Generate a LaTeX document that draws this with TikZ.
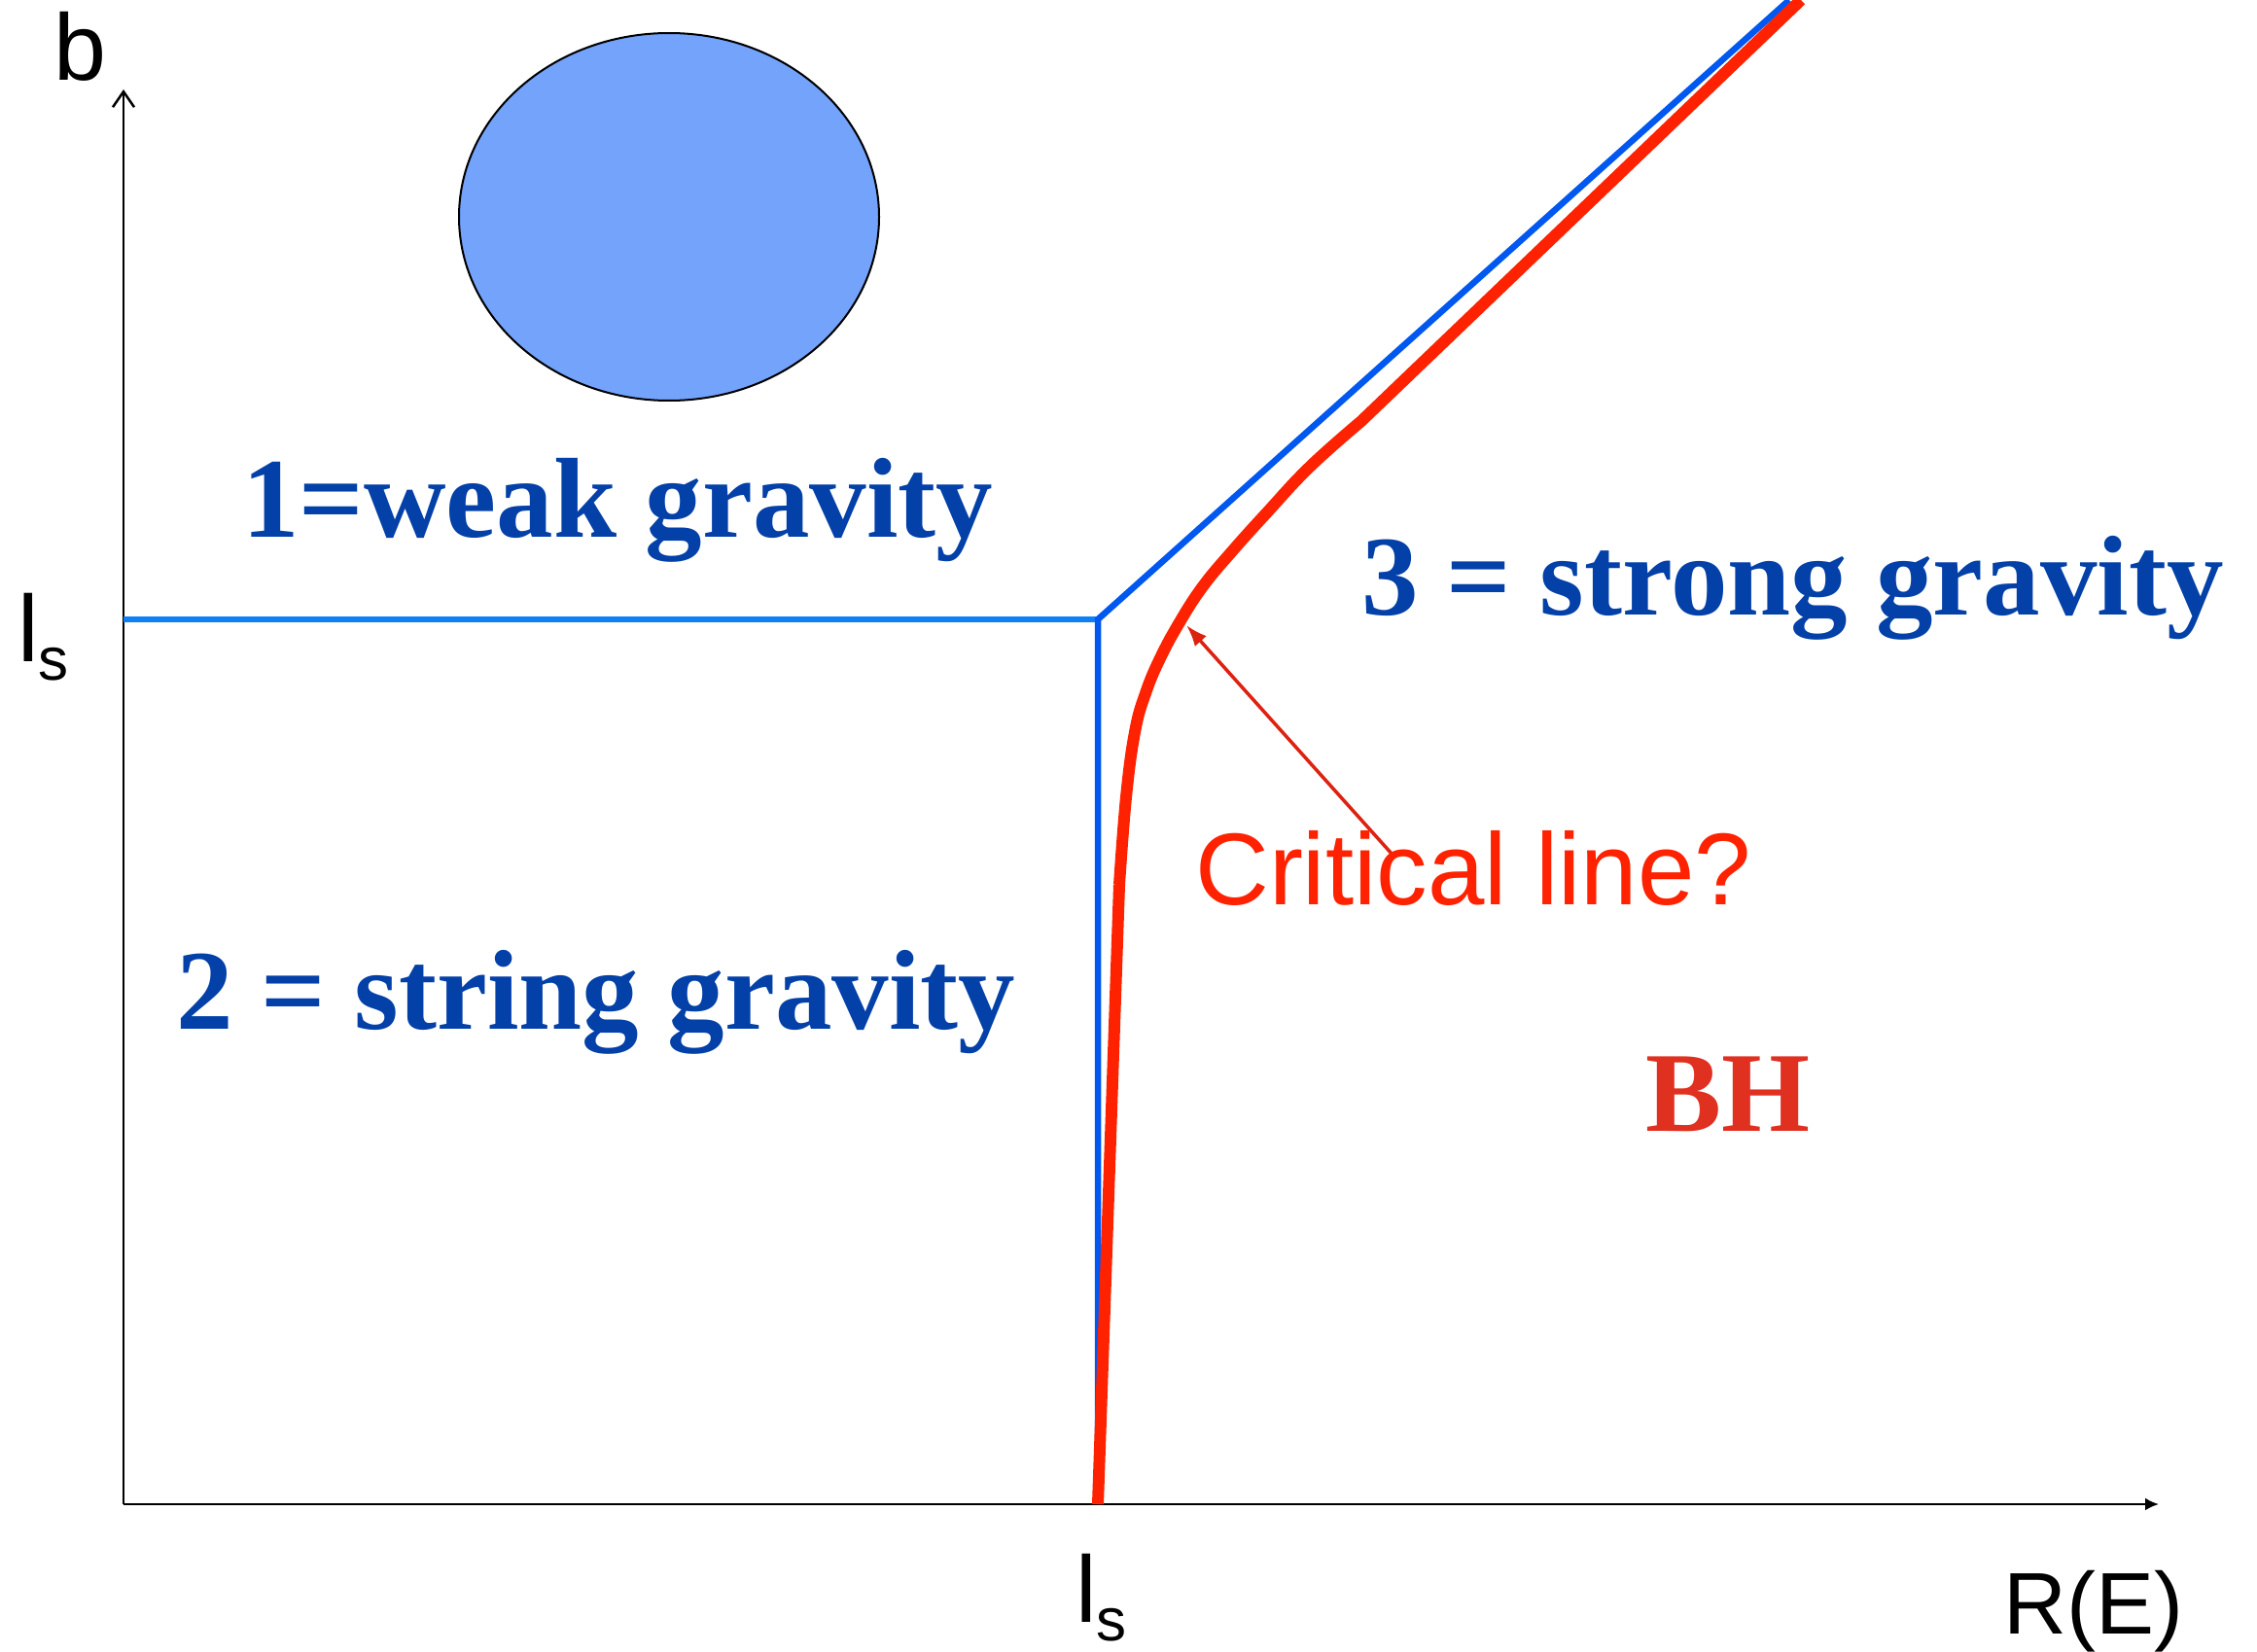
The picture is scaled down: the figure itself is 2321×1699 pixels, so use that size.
\documentclass[tikz,border=0pt]{standalone}
\usepackage{fontspec}
\setmainfont{Liberation Serif}
\newfontfamily\handfont{Liberation Sans}
\usetikzlibrary{arrows.meta,shapes.geometric}
\definecolor{lblblue}{HTML}{0340A8}
\definecolor{lineblue}{HTML}{0058F0}
\definecolor{hblue}{HTML}{0D80F5}
\definecolor{curvered}{HTML}{FF2200}
\definecolor{arrowred}{HTML}{DD2211}
\definecolor{bhred}{HTML}{E03020}
\definecolor{blobblue}{HTML}{74A3FC}
\tikzset{
  axis/.style={line width=2.5pt, black},
  region/.style={inner sep=0pt, anchor=base west, text=lblblue, font=\bfseries\fontsize{117}{120}\selectfont},
  hand/.style={inner sep=0pt, anchor=base west, font=\handfont\fontsize{97}{100}\selectfont},
  bluewall/.style={line width=6.5pt, lineblue},
  redline/.style={line width=12pt, curvered},
}
\newcommand{\lsub}{l\raisebox{-19pt}{\fontsize{62}{62}\selectfont s}}
\begin{document}
\begin{tikzpicture}[x=1pt,y=-1pt]
\useasboundingbox (0,0) rectangle (2321,1699);
% coordinates
\coordinate (O) at (127,1547);
\coordinate (ytip) at (127,92);
\coordinate (xtip) at (2220,1547);
\coordinate (hstart) at (127,637);
\coordinate (corner) at (1129,637);
\coordinate (bottom) at (1129,1547);
\coordinate (btop) at (1840,0);
\coordinate (rbot) at (1129,1547);
\coordinate (rjoin) at (1151,910);
\coordinate (rkink) at (1400,433);
\coordinate (rtop) at (1852,0);
\coordinate (atail) at (1432,879);
\coordinate (ahead) at (1220,643);

% blob
\node[ellipse, draw=black, line width=2pt, fill=blobblue, minimum width=432pt, minimum height=378pt, inner sep=0pt] (blob) at (688,223) {};

% axes
\draw[axis, -{Straight Barb[length=16pt,width=22pt,line width=2.5pt]}] (O) -- (ytip);
\draw[axis, -{Latex[length=14pt,width=13pt]}] (O) -- (xtip);

% blue boundaries
\draw[line width=6.5pt, hblue] (hstart) -- (corner);
\draw[bluewall, line join=miter] (bottom) -- (corner) -- (btop);

% red critical curve
\draw[redline] (rbot) -- (rjoin);
\draw[redline] plot[smooth, tension=0.7] coordinates {(rjoin) (1158,820) (1167,753) (1178,713) (1193,677) (1213,640) (1237,603) (1267,567) (1303,527) (1347,480) (rkink)} -- (rtop);

% arrow
\draw[arrowred, line width=3.5pt, -{Latex[length=22pt,width=16pt]}] (atail) -- (ahead);

% labels
\node[region] (weak) at (249,552) {1=weak gravity};
\node[region] (string) at (181,1058) {2 = string gravity};
\node[region] (strong) at (1400,632) {3 = strong gravity};
\node[region, text=bhred] (bh) at (1692,1163) {BH};
\node[hand, text=curvered, font=\handfont\fontsize{105}{108}\selectfont] (crit) at (1229,930) {Critical line?};
\node[hand] (blabel) at (55,83) {b};
\node[hand] (lsleft) at (18,680) {\lsub};
\node[hand] (lsbot) at (1106,1668) {\lsub};
\node[hand, font=\handfont\fontsize{90}{92}\selectfont] (rlabel) at (2060,1680) {R(E)};
\end{tikzpicture}
\end{document}
